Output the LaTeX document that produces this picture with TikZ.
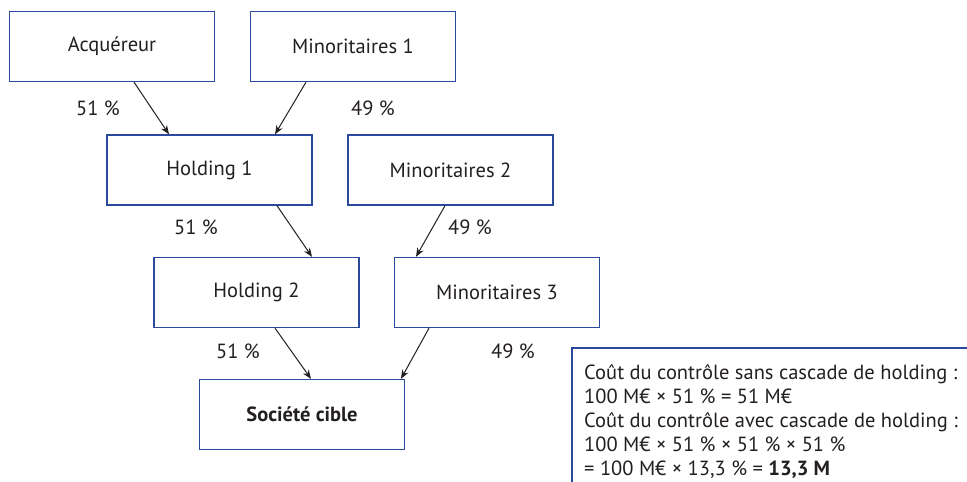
\documentclass[tikz,border=0pt]{standalone}
\usepackage{fontspec}
\setmainfont{PT Sans}
\usetikzlibrary{arrows.meta}
\definecolor{boxblue}{HTML}{2B4A9E}
\definecolor{ink}{HTML}{231F20}
\tikzset{
  x=1pt, y=-1pt,
  entity/.style={draw=boxblue, line width=1.3pt, fill=white, minimum width=205pt, minimum height=70pt, inner sep=0pt, text=ink, font=\fontsize{20.5}{24}\selectfont},
  pct/.style={text=ink, font=\fontsize{20.5}{24}\selectfont, inner sep=0pt},
  arr/.style={draw=ink, line width=1pt, -{Stealth[length=9pt,width=7pt]}}
}
\begin{document}
\begin{tikzpicture}
\useasboundingbox (0,0) rectangle (967,482);
\node[entity] (acq) at (112,46.5) {Acquéreur};
\node[entity] (m1) at (353,46.5) {Minoritaires 1};
\node[entity] (h1) at (209.5,170) {Holding 1};
\node[entity] (m2) at (450.5,170) {Minoritaires 2};
\node[entity] (h2) at (256.5,292.5) {Holding 2};
\node[entity] (m3) at (497,292.5) {Minoritaires 3};
\node[entity] (sc) at (302,414.5) {\bfseries Société cible};

\draw[arr] ([xshift=22pt]acq.south) -- ([xshift=-40.5pt]h1.north);
\draw[arr] ([xshift=-47pt]m1.south) -- ([xshift=65.5pt]h1.north);
\draw[arr] ([xshift=67.5pt]h1.south) -- ([xshift=55.5pt]h2.north);
\draw[arr] ([xshift=-5.5pt]m2.south) -- ([xshift=-81pt]m3.north);
\draw[arr] ([xshift=18.5pt]h2.south) -- ([xshift=9pt]sc.north);
\draw[arr] ([xshift=-68pt]m3.south) -- ([xshift=99pt]sc.north);

\node[pct] (p1) at (98,108) {51 \%};
\node[pct] (p2) at (373,108) {49 \%};
\node[pct] (p3) at (196,227) {51 \%};
\node[pct] (p4) at (470,227) {49 \%};
\node[pct] (p5) at (238,351) {51 \%};
\node[pct] (p6) at (513,351) {49 \%};

\coordinate (tbl) at (572,482);
\coordinate (tbc) at (572,348);
\coordinate (tbr) at (967,348);
\draw[boxblue, line width=1.3pt] (tbl) -- (tbc) -- (tbr);
\node[anchor=north west, inner sep=0pt, text=ink, align=left, font=\fontsize{20.5}{24}\selectfont] (txt) at (584,364)
{Coût du contrôle sans cascade de holding :\\
100 M€ × 51 \% = 51 M€\\
Coût du contrôle avec cascade de holding :\\
100 M€ × 51 \% × 51 \% × 51 \%\\
= 100 M€ × 13,3 \% = \textbf{13,3 M}};
\end{tikzpicture}
\end{document}
